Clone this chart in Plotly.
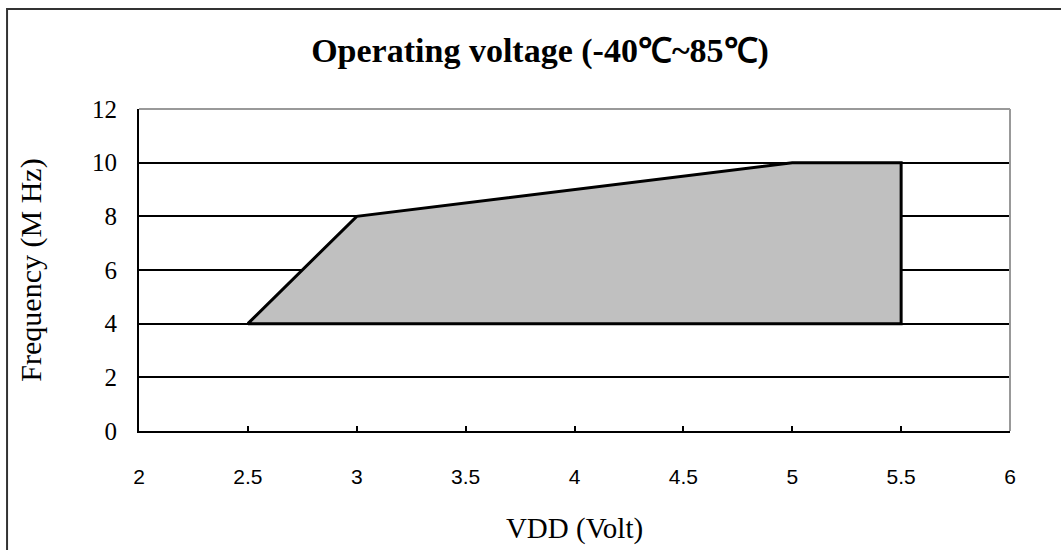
import plotly.graph_objects as go

# Operating region outline (VDD in volts, frequency in MHz)
vdd_volts = [2.5, 3.0, 5.0, 5.5, 5.5, 2.5]
freq_mhz = [4, 8, 10, 10, 4, 4]

x_ticks = [2, 2.5, 3, 3.5, 4, 4.5, 5, 5.5, 6]
x_tick_text = ["2", "2.5", "3", "3.5", "4", "4.5", "5", "5.5", "6"]
y_ticks = [0, 2, 4, 6, 8, 10, 12]
y_tick_text = ["0", "2", "4", "6", "8", "10", "12"]

fig = go.Figure()
fig.add_trace(go.Scatter(
    x=vdd_volts, y=freq_mhz,
    mode="lines", fill="toself",
    fillcolor="#C0C0C0",
    line=dict(color="black", width=3),
    hoverinfo="skip", showlegend=False,
))

fig.update_layout(
    width=1061, height=550,
    margin=dict(l=139, r=51, t=109, b=119),
    paper_bgcolor="white", plot_bgcolor="white",
    title=dict(
        text="<b>Operating voltage (-40℃~85℃)</b>",
        x=0.509, xref="container", xanchor="center",
        y=0.909, yref="container", yanchor="middle",
        font=dict(family="Liberation Serif", size=34, color="black"),
    ),
    xaxis=dict(
        range=[2, 6], tickvals=x_ticks, ticktext=x_tick_text,
        showgrid=False, zeroline=False,
        showline=True, linecolor="black", linewidth=2,
        ticks="inside", ticklen=5, tickwidth=2, tickcolor="black",
        ticklabelstandoff=26,
        tickfont=dict(family="Liberation Sans", size=21, color="black"),
        title=dict(text="VDD (Volt)", standoff=30,
                   font=dict(family="Liberation Serif", size=29, color="black")),
    ),
    yaxis=dict(
        range=[0, 12], tickvals=y_ticks, ticktext=y_tick_text,
        showgrid=True, gridcolor="black", gridwidth=2,
        zeroline=False,
        showline=True, linecolor="black", linewidth=2,
        ticks="", ticklabelstandoff=15,
        tickfont=dict(family="Liberation Serif", size=25, color="black"),
        title=dict(text="Frequency (M Hz)", standoff=42,
                   font=dict(family="Liberation Serif", size=30, color="black")),
    ),
    shapes=[
        # top and right frame of the plotting area
        dict(type="line", xref="paper", yref="paper", x0=0, x1=1, y0=1, y1=1,
             line=dict(color="#999999", width=2), layer="above"),
        dict(type="line", xref="paper", yref="paper", x0=1, x1=1, y0=0, y1=1,
             line=dict(color="#999999", width=2), layer="above"),
        # outer chart border
        dict(type="rect", xref="paper", yref="paper",
             x0=-0.1515, x1=1.0746, y0=-0.4006, y1=1.3106,
             line=dict(color="#333333", width=2), layer="above"),
    ],
)

fig.write_html("out.html")
